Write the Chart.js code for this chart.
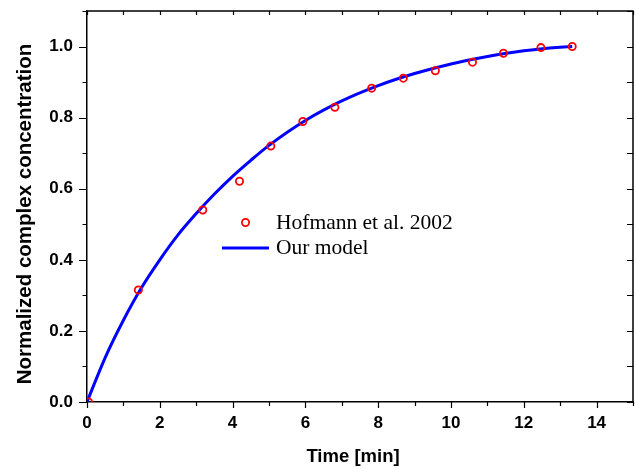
<!DOCTYPE html>
<html>
<head>
<meta charset="utf-8">
<script src="https://cdn.jsdelivr.net/npm/chart.js@4.4.1/dist/chart.umd.min.js"></script>
<style>
  html, body { margin: 0; padding: 0; background: #fff; }
  #wrap { width: 635px; height: 469px; }
</style>
</head>
<body>
<div id="wrap"><canvas id="kinetics" width="635" height="469"></canvas></div>
<script>
// measured complex formation (Hofmann et al. 2002)
const expTime = [0.04, 1.41, 3.18, 4.19, 5.05, 5.93, 6.81, 7.82, 8.69, 9.57, 10.59, 11.44, 12.47, 13.33];
const expConc = [0.0, 0.315, 0.54, 0.621, 0.72, 0.789, 0.829, 0.883, 0.911, 0.932, 0.956, 0.981, 0.997, 1.0];

// simulated curve
const modelTime = [0, 0.5, 1, 1.5, 2, 2.5, 3, 3.5, 4, 4.5, 5, 6, 7, 8, 9, 10, 11, 12, 13, 13.33];
const modelConc = [0, 0.125, 0.23, 0.322, 0.40, 0.47, 0.53, 0.585, 0.635, 0.68, 0.722, 0.792, 0.847, 0.89, 0.924, 0.951, 0.972, 0.988, 0.998, 1.0];

const xTicks = [0, 2, 4, 6, 8, 10, 12, 14];
const yTicks = [0.0, 0.2, 0.4, 0.6, 0.8, 1.0];

const xTitle = "Time [min]";
const yTitle = "Normalized complex concentration";

const RED = '#ff0000';
const BLUE = '#0000ff';
const sans = '"Liberation Sans", Arial, sans-serif';
const serif = '"Liberation Serif", "Times New Roman", serif';

// box frame, Origin-style ticks, axis titles and the inset legend
const frameTicks = {
    id: "frameTicks",
    afterDraw(chart) {
        const {ctx, chartArea: a, scales: {x, y}} = chart;
        ctx.save();
        ctx.strokeStyle = "#000";
        ctx.lineWidth = 1.5;
        ctx.beginPath();
        ctx.moveTo(a.left, a.top);
        ctx.lineTo(a.right, a.top);
        ctx.lineTo(a.right, a.bottom);
        ctx.stroke();

        ctx.lineWidth = 1.2;
        ctx.beginPath();
        for (let i = 0; i <= 15; i++) {
            const px = Math.round(x.getPixelForValue(i)) + 0.5;
            const len = i % 2 === 0 ? 6 : 4;
            ctx.moveTo(px, a.bottom);
            ctx.lineTo(px, a.bottom + len);
            ctx.moveTo(px, a.top);
            ctx.lineTo(px, a.top + 4);
        }
        for (let i = 0; i <= 11; i++) {
            const py = Math.round(y.getPixelForValue(i / 10)) + 0.5;
            const len = i % 2 === 0 ? 8 : 4.5;
            ctx.moveTo(a.left, py);
            ctx.lineTo(a.left - len, py);
            ctx.moveTo(a.right, py);
            ctx.lineTo(a.right - 6, py);
        }
        ctx.stroke();

        // axis titles
        ctx.fillStyle = "#000";
        ctx.textAlign = "center";
        ctx.textBaseline = "middle";
        ctx.font = "bold 18.5px " + sans;
        ctx.fillText(xTitle, 353, 457);
        ctx.save();
        ctx.translate(25, 214);
        ctx.rotate(-Math.PI / 2);
        ctx.font = "bold 20.5px " + sans;
        ctx.fillText(yTitle, 0, 0);
        ctx.restore();

        // legend
        const sets = chart.data.datasets;
        ctx.font = "21.5px " + serif;
        ctx.textAlign = "left";

        ctx.strokeStyle = RED;
        ctx.lineWidth = 1.8;
        ctx.beginPath();
        ctx.arc(245.5, 222.5, 3.6, 0, Math.PI * 2);
        ctx.stroke();
        ctx.fillText(sets[0].label, 276, 223);

        ctx.strokeStyle = BLUE;
        ctx.lineWidth = 3;
        ctx.beginPath();
        ctx.moveTo(222, 248);
        ctx.lineTo(269, 248);
        ctx.stroke();
        ctx.fillText(sets[1].label, 276, 248.5);
        ctx.restore();
    }
};

const ctx = document.getElementById("kinetics");
new Chart(ctx, {
    type: "scatter",
    data: {
        datasets: [
            {
                label: "Hofmann et al. 2002",
                data: expTime.map((t, i) => ({x: t, y: expConc[i]})),
                pointStyle: "circle",
                pointRadius: 3.6,
                pointBorderWidth: 1.8,
                pointBorderColor: RED,
                pointBackgroundColor: "rgba(0,0,0,0)",
                showLine: false,
                order: 1
            },
            {
                label: "Our model",
                type: "line",
                data: modelTime.map((t, i) => ({x: t, y: modelConc[i]})),
                borderColor: BLUE,
                borderWidth: 3,
                pointRadius: 0,
                cubicInterpolationMode: "monotone",
                fill: false,
                order: 2
            }
        ]
    },
    options: {
        responsive: false,
        animation: false,
        layout: {
            autoPadding: false,
            padding: { top: 11, right: 2, left: 0, bottom: 0 }
        },
        plugins: {
            legend: { display: false },
            tooltip: { enabled: false }
        },
        scales: {
            x: {
                type: "linear",
                min: 0,
                max: 15,
                afterBuildTicks: scale => { scale.ticks = xTicks.map(v => ({value: v})); },
                afterFit: scale => {
                    scale.height = 67;
                    scale.paddingLeft = 0;
                    scale.paddingRight = 0;
                },
                grid: { display: false, drawTicks: false },
                border: { display: true, color: "#000", width: 1.5 },
                ticks: {
                    padding: 11,
                    color: "#000",
                    font: { family: sans, weight: "bold", size: 17 }
                }
            },
            y: {
                type: "linear",
                min: 0,
                max: 1.1,
                afterBuildTicks: scale => { scale.ticks = yTicks.map(v => ({value: v})); },
                afterFit: scale => {
                    scale.width = 87;
                    scale.paddingTop = 0;
                    scale.paddingBottom = 0;
                },
                grid: { display: false, drawTicks: false },
                border: { display: true, color: "#000", width: 1.5 },
                ticks: {
                    padding: 14,
                    color: "#000",
                    callback: v => v.toFixed(1),
                    font: { family: sans, weight: "bold", size: 17 }
                }
            }
        }
    },
    plugins: [frameTicks]
});
</script>
</body>
</html>
